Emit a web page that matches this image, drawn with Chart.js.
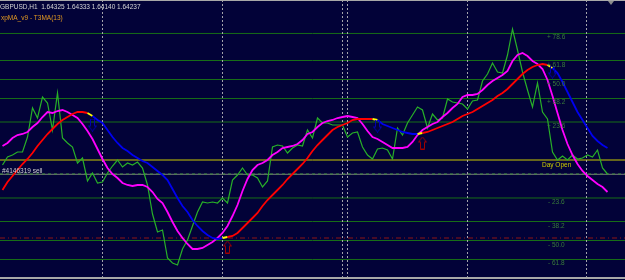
<!DOCTYPE html>
<html><head><meta charset="utf-8">
<style>html,body{margin:0;padding:0;background:#020238;overflow:hidden}canvas{display:block}</style>
<script src="https://cdn.jsdelivr.net/npm/chart.js@4.4.0/dist/chart.umd.min.js"></script>
</head><body>
<canvas id="c" width="625" height="280"></canvas>
<script>
// ---- texts ----
const symbolTitle = "GBPUSD,H1  1.64325 1.64333 1.64140 1.64237";
const indicatorTitle = "xpMA_v9 - T3MA(13)";
const orderLabel = "#4146319 sell";
const dayOpenLabel = "Day Open";

// ---- H1 bars (index 0..121) ----
const closePrice = [
1.6433,1.6441,1.6443,1.6446,1.6446,1.6461,1.6490,1.6480,1.6501,1.6495,
1.6468,1.6505,1.6460,1.6455,1.6451,1.6435,1.6440,1.6417,1.6425,1.6415,
1.6416,1.6425,1.6432,1.6438,1.6431,1.6435,1.6433,1.6436,1.6430,1.6413,
1.6384,1.6366,1.6368,1.6340,1.6335,1.6333,1.6349,1.6358,1.6372,1.6386,
1.6396,1.6395,1.6396,1.6395,1.6400,1.6395,1.6418,1.6423,1.6430,1.6423,
1.6423,1.6420,1.6411,1.6417,1.6451,1.6453,1.6452,1.6445,1.6450,1.6453,
1.6452,1.6468,1.6460,1.6480,1.6475,1.6475,1.6473,1.6473,1.6473,1.6461,
1.6465,1.6466,1.6451,1.6443,1.6439,1.6449,1.6450,1.6448,1.6439,1.6470,
1.6463,1.6475,1.6483,1.6491,1.6488,1.6470,1.6484,1.6478,1.6480,1.6499,
1.6496,1.6495,1.6494,1.6489,1.6497,1.6498,1.6517,1.6524,1.6535,1.6526,
1.6525,1.6543,1.6569,1.6548,1.6526,1.6508,1.6491,1.6515,1.6486,1.6479,
1.6446,1.6438,1.6442,1.6438,1.6443,1.6439,1.6440,1.6443,1.6441,1.6448,
1.6430,1.6424];

const t3ma = [
1.6452,1.6455,1.6460,1.6463,1.6464,1.6466,1.6471,1.6475,1.6481,1.6486,
1.6485,1.6487,1.6488,1.6486,1.6483,1.6480,1.6474,1.6467,1.6459,1.6449,
1.6439,1.6430,1.6424,1.6420,1.6415,1.6413,1.6412,1.6413,1.6413,1.6411,
1.6406,1.6399,1.6395,1.6386,1.6376,1.6367,1.6360,1.6354,1.6349,1.6349,
1.6350,1.6353,1.6356,1.6360,1.6365,1.6372,1.6382,1.6393,1.6407,1.6419,
1.6428,1.6433,1.6435,1.6438,1.6443,1.6446,1.6450,1.6451,1.6452,1.6454,
1.6458,1.6464,1.6466,1.6471,1.6475,1.6477,1.6478,1.6480,1.6481,1.6482,
1.6481,1.6480,1.6474,1.6467,1.6461,1.6459,1.6456,1.6453,1.6450,1.6450,
1.6450,1.6451,1.6456,1.6463,1.6468,1.6471,1.6474,1.6476,1.6481,1.6485,
1.6490,1.6494,1.6501,1.6503,1.6503,1.6504,1.6508,1.6513,1.6517,1.6520,
1.6523,1.6527,1.6537,1.6543,1.6545,1.6542,1.6537,1.6534,1.6529,1.6518,
1.6502,1.6485,1.6468,1.6454,1.6443,1.6434,1.6427,1.6422,1.6418,1.6414,
1.6411,1.6406];

const xpma = [
1.6408,1.6416,1.6422,1.6428,1.6434,1.6439,1.6445,1.6452,1.6458,1.6464,
1.6469,1.6474,1.6478,1.6481,1.6484,1.6486,1.6486,1.6485,1.6482,1.6478,
1.6475,1.6468,1.6461,1.6455,1.6450,1.6447,1.6443,1.6440,1.6437,1.6435,
1.6431,1.6427,1.6423,1.6418,1.6409,1.6400,1.6392,1.6386,1.6378,1.6372,
1.6367,1.6363,1.6360,1.6359,1.6360,1.6361,1.6362,1.6365,1.6370,1.6375,
1.6380,1.6385,1.6392,1.6398,1.6403,1.6408,1.6413,1.6419,1.6424,1.6429,
1.6434,1.6440,1.6447,1.6453,1.6458,1.6463,1.6468,1.6471,1.6473,1.6475,
1.6478,1.6479,1.6479,1.6479,1.6479,1.6478,1.6474,1.6472,1.6470,1.6468,
1.6466,1.6465,1.6464,1.6464,1.6465,1.6466,1.6468,1.6470,1.6472,1.6474,
1.6476,1.6479,1.6482,1.6484,1.6486,1.6489,1.6492,1.6495,1.6498,1.6502,
1.6505,1.6509,1.6514,1.6519,1.6524,1.6528,1.6531,1.6533,1.6534,1.6533,
1.6530,1.6525,1.6516,1.6506,1.6496,1.6486,1.6478,1.6470,1.6462,1.6457,
1.6453,1.6450];

// xpMA turns (segment starting at these bars is drawn yellow)
const xpmaTurnBars = [17, 44, 74, 83, 109];

// signal arrows
const buyArrowBars = [45, 84];
const buyArrowPrice = [1.6351, 1.6455];
const sellArrowBars = [18, 75, 110];
const sellArrowPrice = [1.6473, 1.6472, 1.6526];

// day separators (bar positions)
const daySeparatorBars = [20, 44, 68, 69, 93, 116.8];

// levels
const dayOpen = 1.6438;
const fibRange = 0.0161;
const fibLevels = [23.6, 38.2, 50.0, 61.8, 78.6];
const bidPrice = 1.64237;
const orderPrice = 1.6424;
const stopPrice = 1.6360;

// visible window
const priceMin = 1.6318, priceMax = 1.6598;
const barMin = -0.5, barMax = 124.5;

// ---- build datasets ----
const pts = arr => arr.map((v, i) => ({x: i, y: v}));
const hline = v => [{x: barMin, y: v}, {x: barMax, y: v}];

function arrowImage(color, up) {
  const c = document.createElement('canvas');
  c.width = 9; c.height = 13;
  const g = c.getContext('2d');
  g.strokeStyle = color; g.lineWidth = 1;
  g.beginPath();
  const P = up
    ? [[4.5,0.5],[8.5,5.5],[6.5,5.5],[6.5,12.5],[2.5,12.5],[2.5,5.5],[0.5,5.5]]
    : [[4.5,12.5],[8.5,7.5],[6.5,7.5],[6.5,0.5],[2.5,0.5],[2.5,7.5],[0.5,7.5]];
  g.moveTo(P[0][0], P[0][1]);
  for (let k = 1; k < P.length; k++) g.lineTo(P[k][0], P[k][1]);
  g.closePath(); g.stroke();
  return c;
}

const sepData = [];
daySeparatorBars.forEach(b => { sepData.push({x:b,y:priceMax},{x:b,y:priceMin},{x:b,y:null}); });

const datasets = [];
fibLevels.forEach(l => {
  datasets.push({data: hline(dayOpen + l/100*fibRange), borderColor:'#176e17', borderWidth:1, order:20});
  datasets.push({data: hline(dayOpen - l/100*fibRange), borderColor:'#176e17', borderWidth:1, order:20});
});
datasets.push({data: hline(dayOpen), borderColor:'#caca00', borderWidth:1, order:19});
datasets.push({data: hline(bidPrice), borderColor:'#7c7c7c', borderWidth:1, order:19});
datasets.push({data: hline(orderPrice), borderColor:'#3f8f3f', borderWidth:1, borderDash:[3,3], order:18});
datasets.push({data: hline(stopPrice), borderColor:'#8e1515', borderWidth:1, borderDash:[5,3,1,3], order:18});
datasets.push({data: sepData, borderColor:'rgba(190,190,190,0.85)', borderWidth:1, borderDash:[2,2], spanGaps:false, order:17});
datasets.push({data: pts(closePrice), borderColor:'#28b028', borderWidth:1.2, order:5});
datasets.push({data: pts(t3ma), borderColor:'#ff00ff', borderWidth:1.8, order:4});
datasets.push({data: pts(xpma), borderColor:'#ff0000', borderWidth:1.8, order:3,
  segment:{borderColor: ctx => {
    const s = ctx.p0DataIndex;
    if (xpmaTurnBars.includes(s)) return '#ffff00';
    const n = xpmaTurnBars.filter(t => t < s).length;
    return n % 2 === 0 ? '#ff0000' : '#0000f0';
  }}});
const upImg = arrowImage('#a00000', true);
const dnImg = arrowImage('#0000b4', false);
datasets.push({data: buyArrowBars.map((b,k)=>({x:b,y:buyArrowPrice[k]})), showLine:false, pointStyle:upImg, pointRadius:5, order:1});
datasets.push({data: sellArrowBars.map((b,k)=>({x:b,y:sellArrowPrice[k]})), showLine:false, pointStyle:dnImg, pointRadius:5, order:1});

const decor = {
  id:'decor',
  beforeDraw(chart){
    const ctx = chart.ctx; ctx.save();
    ctx.fillStyle = '#020238'; ctx.fillRect(0,0,chart.width,chart.height);
    ctx.restore();
  },
  afterDatasetsDraw(chart){
    const ctx = chart.ctx, ys = chart.scales.y;
    ctx.save();
    ctx.fillStyle = '#a8a8a8';
    ctx.fillRect(0,0,chart.width,1);
    ctx.fillRect(0,277,chart.width,2);
    // chart shift marker
    ctx.fillStyle = '#8c8c8c';
    ctx.beginPath(); ctx.moveTo(608,1); ctx.lineTo(614,1); ctx.lineTo(611,5); ctx.closePath(); ctx.fill();
    ctx.font = '6.5px "Liberation Sans", Arial, sans-serif';
    ctx.textBaseline = 'alphabetic';
    ctx.fillStyle = '#d6d6d6'; ctx.fillText(symbolTitle, 0, 9);
    ctx.fillStyle = '#e39a22'; ctx.fillText(indicatorTitle, 1, 20);
    ctx.fillStyle = '#3a7d3a';
    fibLevels.forEach(l => {
      const pu = ys.getPixelForValue(dayOpen + l/100*fibRange);
      const pd = ys.getPixelForValue(dayOpen - l/100*fibRange);
      ctx.fillText('+ ' + l.toFixed(1), 547, pu + 6);
      ctx.fillText('- ' + l.toFixed(1), 548, pd + 6);
    });
    ctx.fillStyle = '#cdcd00';
    ctx.fillText(dayOpenLabel, 542, ys.getPixelForValue(dayOpen) + 6.5);
    ctx.fillStyle = '#cfcfcf';
    ctx.fillText(orderLabel, 2, ys.getPixelForValue(orderPrice) - 1.5);
    ctx.restore();
  }
};

new Chart(document.getElementById('c'), {
  type:'line',
  data:{datasets},
  options:{
    responsive:false, animation:false, devicePixelRatio:1,
    layout:{padding:0, autoPadding:false},
    elements:{point:{radius:0, hoverRadius:0}, line:{tension:0}},
    scales:{
      x:{type:'linear', min:barMin, max:barMax, display:false},
      y:{type:'linear', min:priceMin, max:priceMax, display:false}
    },
    plugins:{legend:{display:false}, tooltip:{enabled:false}, title:{display:false}},
    events:[]
  },
  plugins:[decor]
});
</script>
</body></html>
